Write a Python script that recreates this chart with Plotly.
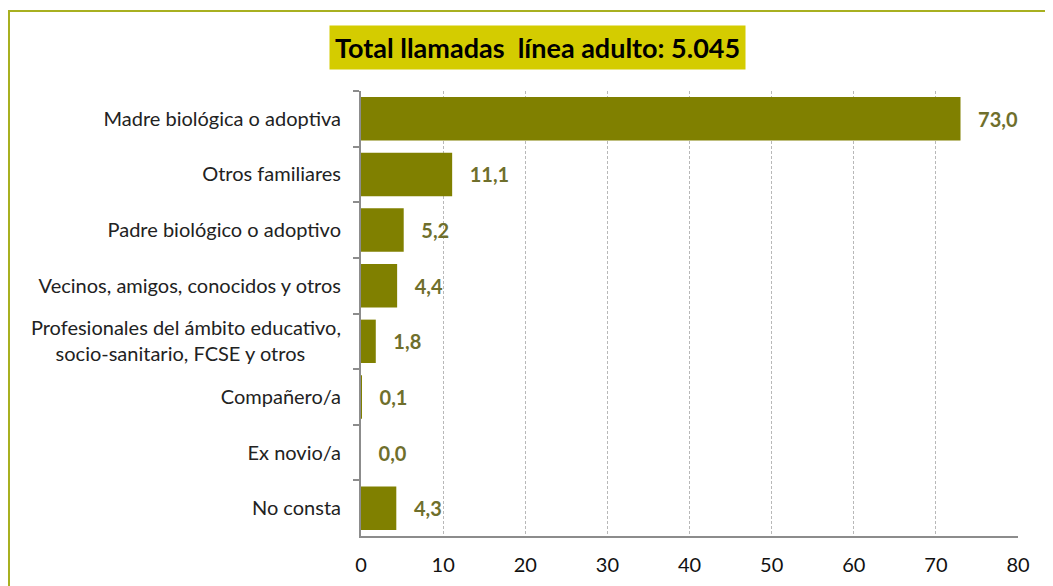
import plotly.graph_objects as go

categories = [
    "Madre biológica o adoptiva",
    "Otros familiares",
    "Padre biológico o adoptivo",
    "Vecinos, amigos, conocidos y otros",
    "Profesionales del ámbito educativo,<br>socio-sanitario, FCSE y otros" + "\u00a0" * 7,
    "Compañero/a",
    "Ex novio/a",
    "No consta",
]
values = [73.0, 11.1, 5.2, 4.4, 1.8, 0.1, 0.0, 4.3]
labels = ["\u00a0\u00a0\u00a0" + f"{v:.1f}".replace(".", ",") for v in values]
title_text = "Total llamadas  línea adulto: 5.045"
x_ticks = [0, 10, 20, 30, 40, 50, 60, 70, 80]

# page body has an 8px offset in the browser
OFF = 8
W, H = 1053, 586
L = 361 - OFF
T = 91 - OFF
R = W - (1018 - OFF)
B = H - (536 - OFF)
PW, PH = W - L - R, H - T - B


def px_x(x):
    return (x - OFF - L) / PW


def px_y(y):
    return (H - B - (y - OFF)) / PH


fig = go.Figure(go.Bar(
    x=values, y=categories, orientation="h",
    marker=dict(color="#808000", line=dict(width=0)),
    text=labels, textposition="outside", cliponaxis=False,
    textfont=dict(family="Lato", size=20, color="#6f6f2c", weight="bold"),
    width=0.78,
))

fig.update_layout(
    width=W, height=H,
    margin=dict(l=L, r=R, t=T, b=B),
    paper_bgcolor="white", plot_bgcolor="white",
    showlegend=False,
    font=dict(family="Lato", size=20, color="#222222"),
    xaxis=dict(
        range=[0, 80], tickvals=x_ticks, showgrid=True,
        gridcolor="#b8b8b8", griddash="3px,2px", gridwidth=1,
        showline=True, linecolor="#8c8c8c", linewidth=2,
        ticks="", tickfont=dict(size=20, color="#111111"),
        ticklabelstandoff=10, zeroline=False, fixedrange=True,
    ),
    yaxis=dict(
        autorange="reversed", showline=True, linecolor="#8c8c8c", linewidth=2,
        ticks="outside", tickson="boundaries", ticklen=6, tickcolor="#8c8c8c",
        tickwidth=2, tickfont=dict(size=20, color="#222222"),
        ticklabelstandoff=14, showgrid=False,
    ),
    shapes=[dict(
        type="rect", xref="paper", yref="paper",
        x0=px_x(9), x1=px_x(W + 30),
        y0=px_y(H + 30), y1=px_y(11),
        line=dict(color="#a8b020", width=2), fillcolor="rgba(0,0,0,0)",
        layer="below",
    )],
    annotations=[dict(
        text="<b>" + title_text + "</b>", xref="paper", yref="paper",
        x=px_x(537), y=px_y(48),
        xanchor="center", yanchor="middle", showarrow=False,
        font=dict(family="Lato", size=27, color="#000000"),
        bgcolor="#d4cc00", borderpad=5,
    )],
)

fig.write_html("out.html")
